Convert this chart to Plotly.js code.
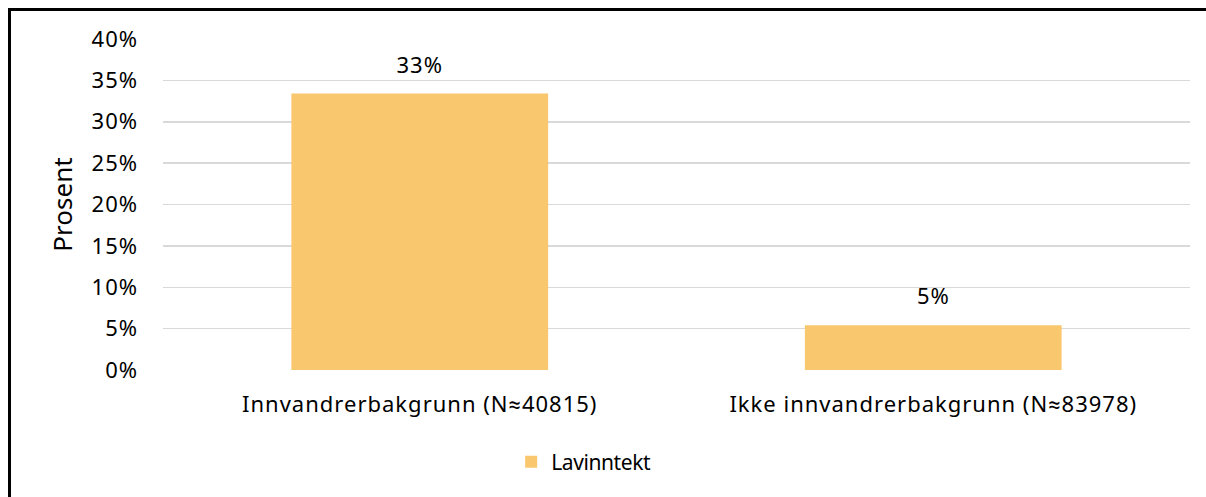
<!DOCTYPE html>
<html>
<head>
<meta charset="utf-8">
<script src="https://cdn.plot.ly/plotly-3.0.1.min.js"></script>
<style>
html,body{margin:0;padding:0;background:#fff;}
#wrap{position:relative;width:1206px;height:497px;overflow:hidden;}
#chart{position:absolute;left:0;top:0;width:1206px;height:497px;}
#frame{position:absolute;left:8px;top:8px;width:1200px;height:500px;border-left:3px solid #000;border-top:3px solid #000;pointer-events:none;}
#chart .xtick text{letter-spacing:1px;}
#chart .ytick text{letter-spacing:1px;}
#chart .annotation-text{letter-spacing:1px;}
#chart .legendtext{letter-spacing:-0.4px;}
</style>
</head>
<body>
<div id="wrap">
<div id="chart"></div>
<div id="frame"></div>
</div>
<script>
const categories = ["Innvandrerbakgrunn (N≈40815)", "Ikke innvandrerbakgrunn (N≈83978)"];
const seriesName = "Lavinntekt";
const values = [33.4, 5.4];
const yTickVals = [0, 5, 10, 15, 20, 25, 30, 35, 40];
const yTickText = ["0%", "5%", "10%", "15%", "20%", "25%", "30%", "35%", "40%"];

const FONT = "Noto Sans, Roboto, sans-serif";
const barColor = "#F8C76E";

const trace = {
  type: "bar",
  x: categories,
  y: values,
  name: seriesName,
  marker: {color: barColor},
  showlegend: true,
  hoverinfo: "none"
};

const annotations = values.map((v, i) => ({
  x: categories[i], y: v, xref: "x", yref: "y",
  text: Math.round(v) + "%",
  showarrow: false, yanchor: "bottom", yshift: 13,
  font: {family: FONT, size: 22, color: "#000"}
}));

const layout = {
  width: 1206, height: 497,
  margin: {l: 163, r: 16, t: 39, b: 127},
  paper_bgcolor: "#fff", plot_bgcolor: "#fff",
  font: {family: FONT, size: 22, color: "#000"},
  bargap: 0.5,
  xaxis: {
    type: "category",
    showgrid: false, zeroline: false, showline: false,
    ticks: "", ticklabelstandoff: 19,
    tickfont: {family: FONT, size: 22, color: "#000"}
  },
  yaxis: {
    range: [0, 40],
    tickvals: yTickVals, ticktext: yTickText,
    showgrid: true, gridcolor: "#d9d9d9", gridwidth: 1.5,
    zeroline: false, showline: false,
    ticks: "", ticklabelstandoff: 24,
    tickfont: {family: FONT, size: 22, color: "#000"},
    title: {text: "Prosent", standoff: 14, font: {family: FONT, size: 26, color: "#000"}}
  },
  legend: {
    orientation: "h", x: 0.339, xanchor: "left", y: -0.278, yanchor: "middle",
    font: {family: FONT, size: 21, color: "#000"},
    itemwidth: 30
  },
  annotations: annotations,
  showlegend: true
};

Plotly.newPlot("chart", [trace], layout, {displayModeBar: false, staticPlot: true});
</script>
</body>
</html>
